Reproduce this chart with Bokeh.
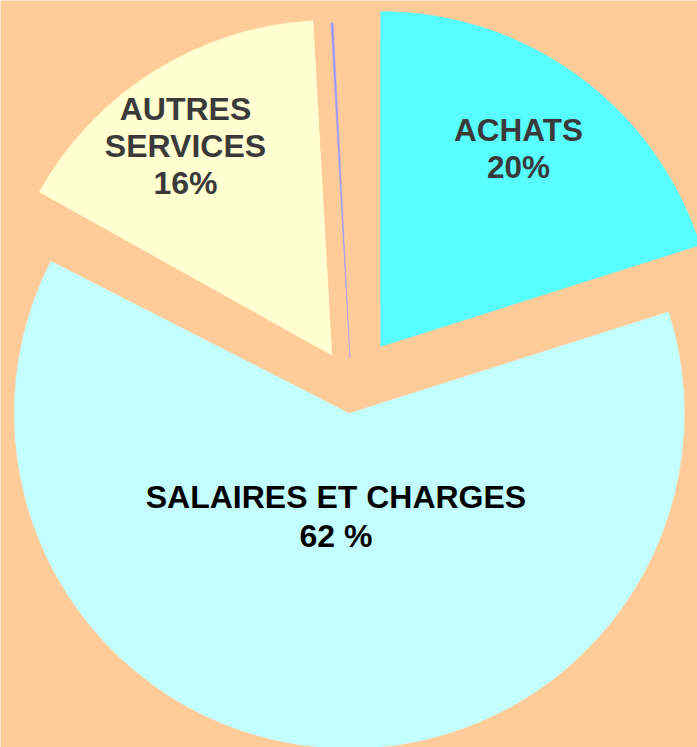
import math
import re
from bokeh.plotting import figure
from bokeh.models import ColumnDataSource
from bokeh.core.properties import value
from bokeh.embed import file_html
from bokeh.resources import INLINE

# ---- data ----
categories = ["ACHATS", "SALAIRES ET CHARGES", "", "AUTRES SERVICES", "DIVERS"]
percent = [20.1, 62.4, 0.6, 16.0, 0.1]
labels = ["ACHATS\n20%", "SALAIRES ET CHARGES\n62 %", "", "AUTRES\nSERVICES\n16%", ""]

# ---- style ----
colors = ["#57FFFF", "#C4FFFF", None, "#FFFFD2", "#9999FF"]
text_colors = ["#3A3A3A", "#000000", "#000000", "#3A3A3A", "#000000"]
font_sizes = ["31.5px", "32px", "10px", "32px", "10px"]
line_heights = [1.02, 1.06, 1.2, 1.03, 1.2]
explode = [49.5, 27, 0, 37, 29]        # px offset of each slice along its bisector
label_r = [241, 104, 0, 255, 0]        # label distance from slice tip
label_turn = [1.3, -2.7, 0.0, 3.0, 0.0]  # small angular nudge of labels (deg)
W, H = 697, 747
R = 335
cx, cy = 351, H - 386
bg = "#FFCC99"

start, end, xs, ys, lx, ly = [], [], [], [], [], []
a = 90.0
for i, v in enumerate(percent):
    s = a
    e = a - 360.0 * v / 100.0
    a = e
    mid = math.radians((s + e) / 2.0)
    x0 = cx + explode[i] * math.cos(mid)
    y0 = cy + explode[i] * math.sin(mid)
    start.append(math.radians(e))
    end.append(math.radians(s))
    xs.append(x0)
    ys.append(y0)
    lm = mid + math.radians(label_turn[i])
    lx.append(x0 + label_r[i] * math.cos(lm))
    ly.append(y0 + label_r[i] * math.sin(lm))

keep = [i for i, c in enumerate(colors) if c is not None]
src = ColumnDataSource(dict(
    x=[xs[i] for i in keep], y=[ys[i] for i in keep],
    s=[start[i] for i in keep], e=[end[i] for i in keep],
    c=[colors[i] for i in keep],
))
lab = [i for i, t in enumerate(labels) if t]
lsrc = ColumnDataSource(dict(
    lx=[lx[i] for i in lab], ly=[ly[i] for i in lab], t=[labels[i] for i in lab],
    tc=[text_colors[i] for i in lab], fs=[font_sizes[i] for i in lab],
    lh=[line_heights[i] for i in lab],
))

p = figure(width=W, height=H, x_range=(0, W), y_range=(0, H),
           output_backend="svg", toolbar_location=None, min_border=0)
p.axis.visible = False
p.grid.visible = False
p.outline_line_color = None
p.background_fill_color = bg
p.border_fill_color = bg

p.wedge(x="x", y="y", radius=R, start_angle="s", end_angle="e",
        direction="anticlock", fill_color="c", line_color="c", line_width=0.5,
        source=src)
p.text(x="lx", y="ly", text="t", text_color="tc", text_font_size="fs",
       text_font=value("Liberation Sans"), text_font_style="bold",
       text_align="center", text_baseline="middle", text_line_height="lh",
       source=lsrc)

html = file_html(p, INLINE)
html = re.sub(r"<body([^>]*)>", r'<body\1 style="margin:0;background:%s;overflow:hidden">' % bg, html, count=1)
open("out.html", "w").write(html)
